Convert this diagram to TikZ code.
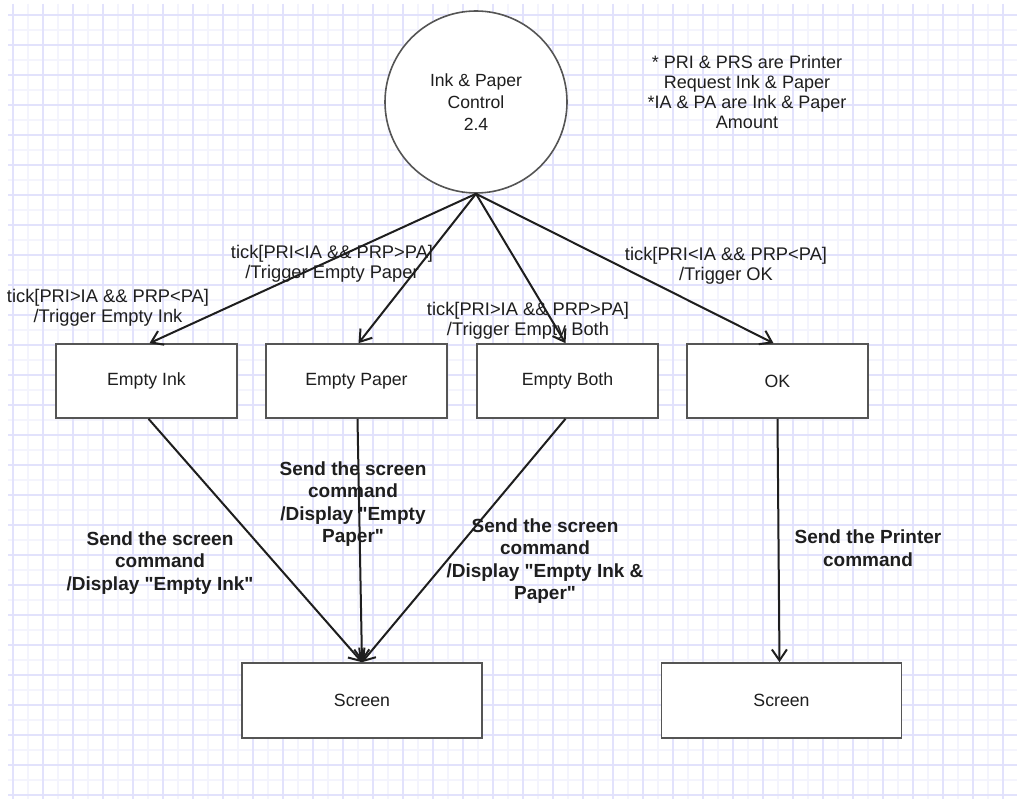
\documentclass[tikz,border=0pt]{standalone}
\usepackage{fontspec}
\setmainfont{Liberation Sans}
\usetikzlibrary{arrows.meta}
\definecolor{gridmaj}{RGB}{226,226,252}
\definecolor{gridmin}{RGB}{244,244,253}
\definecolor{edgegray}{RGB}{85,85,85}
\definecolor{inkdark}{RGB}{30,30,30}
\begin{document}
\begin{tikzpicture}[x=1pt,y=-1pt,
		font=\fontsize{18.3}{20.5}\selectfont, text=inkdark,
		box/.style={draw=edgegray, line width=1.6pt, fill=white, minimum width=181pt, minimum height=74pt, inner sep=0pt, font=\fontsize{17.7}{21}\selectfont},
		ctrl/.style={circle, draw=edgegray, line width=1.6pt, fill=white, minimum size=182pt, align=center, inner sep=0pt, font=\fontsize{17.6}{22}\selectfont},
		conn/.style={draw=inkdark, line width=2pt, -{Straight Barb[length=11pt,width=15pt,line width=2pt]}},
		lbl/.style={align=center, inner sep=0pt},
		cmd/.style={align=center, inner sep=0pt, font=\fontsize{19}{22.5}\selectfont\bfseries}]
		\useasboundingbox (0,0) rectangle (1017,799);
		\fill[white] (0,0) rectangle (1017,799);
		
		% grid paper
		\foreach \x in {28,58,...,1018}
			\draw[gridmin, line width=1.5pt] (\x,4) -- (\x,799);
		\foreach \y in {30,60,...,799}
			\draw[gridmin, line width=1.5pt] (8,\y) -- (1017,\y);
		\foreach \x in {13,43,...,1013}
			\draw[gridmaj, line width=1.8pt] (\x,4) -- (\x,799);
		\foreach \y in {15,45,...,799}
			\draw[gridmaj, line width=1.8pt] (8,\y) -- (1017,\y);
		
		\node[ctrl] (ctrl) at (476,102) {Ink \& Paper\\Control\\2.4};
		
		\node[lbl, font=\fontsize{18}{20}\selectfont] (note) at (747,92) {* PRI \& PRS are Printer\\Request Ink \& Paper\\*IA \& PA are Ink \& Paper\\Amount};
		
		\node[box] (ink) at (146.5,381) {Empty Ink};
		\node[box] (paper) at (356.5,381) {Empty Paper};
		\node[box] (both) at (567.5,381) {Empty Both};
		\node[box] (ok) at (777.5,381) {OK};
		
		\node[box, minimum width=240pt, minimum height=75pt] (scrl) at (362,700.5) {Screen};
		\node[box, minimum width=240pt, minimum height=75pt] (scrr) at (781.5,700.5) {Screen};
		
		\draw[conn] (ctrl.south) -- ([xshift=3pt]ink.north);
		\draw[conn] (ctrl.south) -- ([xshift=2pt]paper.north);
		\draw[conn] (ctrl.south) -- ([xshift=-2pt]both.north);
		\draw[conn] (ctrl.south) -- ([xshift=-4pt]ok.north);
		
		\draw[conn] ([xshift=2pt]ink.south) -- (scrl.north);
		\draw[conn] ([xshift=1pt]paper.south) -- (scrl.north);
		\draw[conn] ([xshift=-2pt]both.south) -- (scrl.north);
		\draw[conn] (ok.south) -- ([xshift=-2pt]scrr.north);
		
		\node[lbl] (tink) at (108,308) {tick[PRI>IA \&\& PRP<PA]\\/Trigger Empty Ink};
		\node[lbl] (tpaper) at (332,264) {tick[PRI<IA \&\& PRP>PA]\\/Trigger Empty Paper};
		\node[lbl] (tboth) at (528,321) {tick[PRI>IA \&\& PRP>PA]\\/Trigger Empty Both};
		\node[lbl] (tok) at (726,266) {tick[PRI<IA \&\& PRP<PA]\\/Trigger OK};
		
		\node[cmd] (cink) at (160,563) {Send the screen\\command\\/Display \textquotedbl Empty Ink\textquotedbl};
		\node[cmd] (cpaper) at (353,504) {Send the screen\\command\\/Display \textquotedbl Empty\\Paper\textquotedbl};
		\node[cmd] (cboth) at (545,561) {Send the screen\\command\\/Display \textquotedbl Empty Ink \&\\Paper\textquotedbl};
		\node[cmd] (cok) at (868,548) {Send the Printer\\command};
		
	\end{tikzpicture}
\end{document}
